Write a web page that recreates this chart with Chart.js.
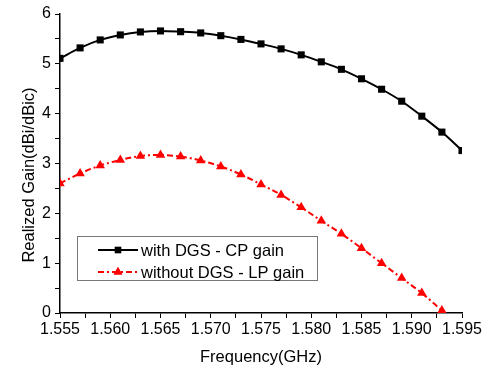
<!DOCTYPE html>
<html>
<head>
<meta charset="utf-8">
<script src="https://cdn.jsdelivr.net/npm/chart.js@4/dist/chart.umd.min.js"></script>
<style>
html,body{margin:0;padding:0;background:#fff;}
#wrap{width:491px;height:372px;position:relative;}
</style>
</head>
<body>
<div id="wrap"><canvas id="c" width="491" height="372"></canvas></div>
<script>
const freqCP = [1.555,1.557,1.559,1.561,1.563,1.565,1.567,1.569,1.571,1.573,1.575,1.577,1.579,1.581,1.583,1.585,1.587,1.589,1.591,1.593,1.595];
const gainCP = [5.11,5.32,5.48,5.58,5.64,5.66,5.645,5.62,5.565,5.49,5.40,5.30,5.18,5.04,4.89,4.70,4.49,4.25,3.95,3.63,3.26];
const freqLP = [1.555,1.557,1.559,1.561,1.563,1.565,1.567,1.569,1.571,1.573,1.575,1.577,1.579,1.581,1.583,1.585,1.587,1.589,1.591,1.593];
const gainLP = [2.60,2.80,2.96,3.07,3.15,3.17,3.14,3.06,2.94,2.78,2.58,2.37,2.12,1.85,1.59,1.30,1.00,0.70,0.40,0.05];
const seriesLabels = ['with DGS - CP gain','without DGS - LP gain'];
const xTitle = 'Frequency(GHz)';
const yTitle = 'Realized Gain(dBi/dBic)';

const FONT = '"Liberation Sans", Arial, sans-serif';

const decorPlugin = {
  id: 'decor',
  afterDraw(chart) {
    const ctx = chart.ctx;
    ctx.save();
    // y axis title
    ctx.translate(29, 175);
    ctx.rotate(-Math.PI / 2);
    ctx.fillStyle = '#000';
    ctx.font = '16.5px ' + FONT;
    ctx.textAlign = 'center';
    ctx.textBaseline = 'middle';
    ctx.fillText(yTitle, 0, 0);
    ctx.restore();

    ctx.save();
    ctx.fillStyle = '#000';
    ctx.font = '16.5px ' + FONT;
    ctx.textAlign = 'center';
    ctx.textBaseline = 'middle';
    ctx.fillText(xTitle, (chart.chartArea.left + chart.chartArea.right) / 2, 357);
    ctx.restore();

    // legend
    const x0 = 77, y0 = 236, w = 240, h = 44;
    ctx.save();
    ctx.fillStyle = '#fff';
    ctx.fillRect(x0, y0, w, h);
    ctx.strokeStyle = '#777';
    ctx.lineWidth = 1;
    ctx.strokeRect(x0 + 0.5, y0 + 0.5, w, h);
    const rows = [250, 272];
    chart.data.datasets.forEach((ds, i) => {
      const y = rows[i];
      ctx.beginPath();
      ctx.strokeStyle = ds.borderColor;
      ctx.lineWidth = ds.borderWidth;
      ctx.setLineDash(ds.borderDash || []);
      ctx.moveTo(98, y);
      ctx.lineTo(138, y);
      ctx.stroke();
      ctx.setLineDash([]);
      ctx.fillStyle = ds.pointBackgroundColor;
      Chart.helpers.drawPoint(ctx, {pointStyle: ds.pointStyle, radius: ds.pointRadius - 0.5, rotation: 0, borderWidth: 0}, 118, y);
      ctx.fill();
      ctx.fillStyle = '#000';
      ctx.font = '16.5px ' + FONT;
      ctx.textBaseline = 'middle';
      ctx.textAlign = 'left';
      ctx.fillText(ds.label, 141, y + 1);
    });
    ctx.restore();
  }
};

new Chart(document.getElementById('c'), {
  type: 'line',
  data: {
    datasets: [
      {
        label: seriesLabels[0],
        data: freqCP.map((f, i) => ({x: f, y: gainCP[i]})),
        borderColor: '#000',
        backgroundColor: '#000',
        pointBackgroundColor: '#000',
        pointBorderColor: '#000',
        borderWidth: 2,
        pointStyle: 'rect',
        pointRadius: 5,
        pointBorderWidth: 0,
        cubicInterpolationMode: 'monotone'
      },
      {
        label: seriesLabels[1],
        data: freqLP.map((f, i) => ({x: f, y: gainLP[i]})),
        borderColor: '#ff0000',
        backgroundColor: '#ff0000',
        pointBackgroundColor: '#ff0000',
        pointBorderColor: '#ff0000',
        borderWidth: 2,
        borderDash: [6, 3, 2, 3],
        pointStyle: 'triangle',
        pointRadius: 5.5,
        pointBorderWidth: 0,
        cubicInterpolationMode: 'monotone'
      }
    ]
  },
  options: {
    responsive: false,
    animation: false,
    devicePixelRatio: 1,
    layout: {padding: {top: 14, right: 29, left: 0, bottom: 0}},
    plugins: {legend: {display: false}, tooltip: {enabled: false}},
    scales: {
      x: {
        type: 'linear',
        min: 1.555,
        max: 1.595,
        afterFit(s) { s.height = 59; },
        afterBuildTicks(s) {
          const t = [];
          for (let i = 0; i <= 16; i++) t.push({value: 1.555 + i * 0.0025});
          s.ticks = t;
        },
        ticks: {
          autoSkip: false,
          maxRotation: 0,
          color: '#000',
          font: {family: FONT, size: 16},
          padding: 2,
          callback(v, i) { return i % 2 === 0 ? v.toFixed(3) : ''; }
        },
        grid: {display: true, drawOnChartArea: false, drawTicks: true, tickLength: 5, color: '#000', lineWidth: 1},
        border: {display: true, color: '#000', width: 1.5},
        title: {display: false}
      },
      y: {
        type: 'linear',
        min: 0,
        max: 6,
        afterFit(s) { s.width = 60; },
        afterBuildTicks(s) {
          const t = [];
          for (let i = 0; i <= 12; i++) t.push({value: i * 0.5});
          s.ticks = t;
        },
        ticks: {
          autoSkip: false,
          color: '#000',
          font: {family: FONT, size: 16},
          padding: 4,
          callback(v, i) { return i % 2 === 0 ? String(v) : ''; }
        },
        grid: {display: true, drawOnChartArea: false, drawTicks: true, tickLength: 5, color: '#000', lineWidth: 1},
        border: {display: true, color: '#000', width: 1.5},
        title: {display: false}
      }
    }
  },
  plugins: [decorPlugin]
});
</script>
</body>
</html>
